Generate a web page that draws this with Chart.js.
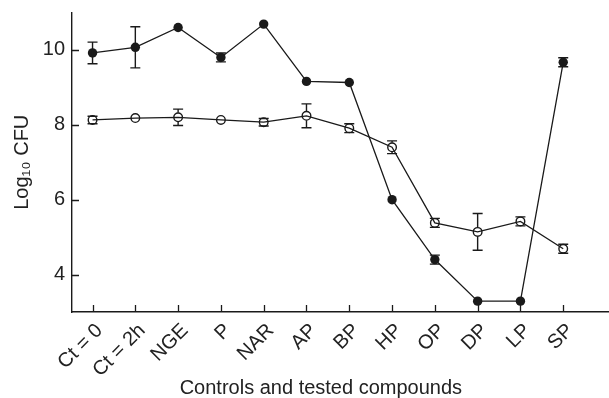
<!DOCTYPE html>
<html><head><meta charset="utf-8">
<script src="https://cdn.jsdelivr.net/npm/chart.js@4"></script>
<style>html,body{margin:0;padding:0;background:#fff}</style>
</head><body>
<canvas id="c" width="609" height="398" style="width:609px;height:398px;display:block"></canvas>
<script>
const categories = ['Ct = 0','Ct = 2h','NGE','P','NAR','AP','BP','HP','OP','DP','LP','SP'];
const filledValues = [9.92,10.07,10.6,9.8,10.69,9.16,9.13,6.0,4.4,3.29,3.29,9.67];
const filledErrors = [0.29,0.55,0,0.12,0,0,0,0,0.12,0,0,0.12];
const openValues = [8.13,8.18,8.2,8.13,8.07,8.24,7.91,7.40,5.38,5.14,5.42,4.69];
const openErrors = [0.1,0,0.22,0,0.1,0.32,0.12,0.17,0.12,0.49,0.12,0.12];
const yTicks = [4,6,8,10];
const xTitle = 'Controls and tested compounds';
const yTitle = 'Log\u2081\u2080 CFU';

const INK = '#1a1a1a';
const FONT = 'Liberation Sans, Arial, Helvetica, sans-serif';

const decor = {
  id: 'decor',
  afterDatasetsDraw(chart) {
    const ctx = chart.ctx, xs = chart.scales.x, ys = chart.scales.y;
    ctx.save();
    ctx.strokeStyle = INK;
    ctx.lineWidth = 1.4;
    const sets = [[filledValues, filledErrors, 0], [openValues, openErrors, 4.5]];
    sets.forEach(([vals, errs, gap]) => {
      vals.forEach((v, i) => {
        const e = errs[i];
        if (!e) return;
        const px = xs.getPixelForValue(i);
        const py = ys.getPixelForValue(v);
        const top = ys.getPixelForValue(v + e);
        const bot = ys.getPixelForValue(v - e);
        ctx.beginPath();
        if (top < py - gap) { ctx.moveTo(px, py - gap); ctx.lineTo(px, top); }
        if (bot > py + gap) { ctx.moveTo(px, py + gap); ctx.lineTo(px, bot); }
        ctx.moveTo(px - 5, top); ctx.lineTo(px + 5, top);
        ctx.moveTo(px - 5, bot); ctx.lineTo(px + 5, bot);
        ctx.stroke();
      });
    });
    ctx.restore();
  },
  afterDraw(chart) {
    const ctx = chart.ctx, xs = chart.scales.x, ys = chart.scales.y;
    const area = chart.chartArea;
    ctx.save();
    ctx.strokeStyle = INK;
    ctx.lineWidth = 1.3;
    ctx.beginPath();
    xs.ticks.forEach(t => {
      const px = Math.round(xs.getPixelForValue(t.value)) + 0.5;
      ctx.moveTo(px, area.bottom); ctx.lineTo(px, area.bottom - 7);
    });
    ys.ticks.forEach(t => {
      const py = Math.round(ys.getPixelForValue(t.value)) + 0.5;
      ctx.moveTo(area.left, py); ctx.lineTo(area.left + 7, py);
    });
    ctx.stroke();
    ctx.fillStyle = '#222';
    ctx.font = '20px ' + FONT;
    ctx.textAlign = 'center';
    ctx.textBaseline = 'middle';
    const cx = (xs.getPixelForValue(0) + xs.getPixelForValue(categories.length - 1)) / 2 - 7;
    ctx.fillText(xTitle, cx, chart.height - 10);
    ctx.restore();
  }
};

new Chart(document.getElementById('c'), {
  type: 'line',
  data: {
    datasets: [
      {
        label: 'filled',
        data: filledValues.map((v, i) => ({x: i, y: v})),
        borderColor: INK, borderWidth: 1.3,
        pointRadius: 4.7, pointBackgroundColor: INK, pointBorderColor: INK, pointBorderWidth: 0,
        tension: 0, fill: false
      },
      {
        label: 'open',
        data: openValues.map((v, i) => ({x: i, y: v})),
        borderColor: INK, borderWidth: 1.3,
        pointRadius: 4.3, pointBackgroundColor: 'rgba(255,255,255,0)', pointBorderColor: INK, pointBorderWidth: 1.4,
        tension: 0, fill: false
      }
    ]
  },
  options: {
    responsive: false, devicePixelRatio: 1, animation: false,
    layout: { autoPadding: false, padding: { top: 12.5, right: 0, left: 0, bottom: 0 } },
    plugins: { legend: { display: false }, tooltip: { enabled: false } },
    scales: {
      x: {
        type: 'linear', min: -0.48, max: 12.07,
        afterBuildTicks: s => { s.ticks = categories.map((c, i) => ({value: i})); },
        afterFit: s => { s.height = 86; s.paddingLeft = 0; s.paddingRight = 0; },
        ticks: {
          callback: v => categories[v],
          autoSkip: false, minRotation: 45, maxRotation: 45,
          font: { family: FONT, size: 20 }, color: '#222', padding: 7, labelOffset: 7
        },
        grid: { display: false, drawTicks: false },
        border: { display: true, color: INK, width: 1.4 },
        title: { display: false, text: xTitle }
      },
      y: {
        type: 'linear', min: 3, max: 11,
        afterBuildTicks: s => { s.ticks = yTicks.map(v => ({value: v})); },
        afterFit: s => { s.width = 72; s.paddingTop = 0; s.paddingBottom = 0; },
        ticks: { font: { family: FONT, size: 20 }, color: '#222', padding: 7 },
        grid: { display: false, drawTicks: false },
        border: { display: true, color: INK, width: 1.4 },
        title: { display: true, text: yTitle, font: { family: FONT, size: 20, lineHeight: 1 }, color: '#222', padding: { top: 12, bottom: 0 } }
      }
    }
  },
  plugins: [decor]
});
</script>
</body></html>
